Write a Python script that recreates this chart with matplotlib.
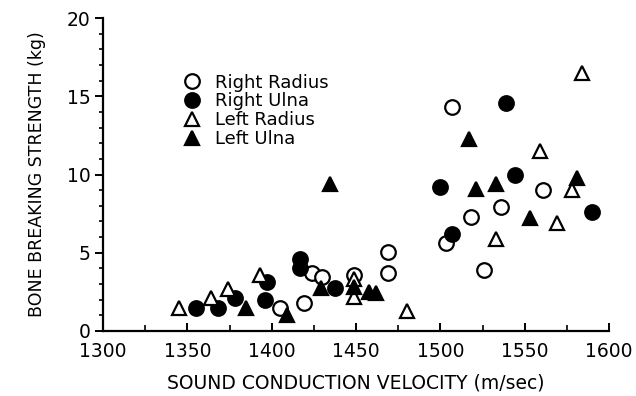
import matplotlib
matplotlib.use("Agg")
import matplotlib.pyplot as plt
from matplotlib.ticker import MultipleLocator

# Data (sound conduction velocity m/sec, breaking strength kg)
rr_x = [1405, 1419, 1424, 1430, 1449, 1469, 1469, 1503.5, 1507, 1518, 1526, 1536, 1561]
rr_y = [1.5, 1.8, 3.7, 3.45, 3.6, 5.05, 3.7, 5.6, 14.3, 7.3, 3.9, 7.9, 9.0]

ru_x = [1355, 1368, 1378, 1396, 1397, 1417, 1417, 1437.5, 1500, 1507, 1539, 1544, 1590]
ru_y = [1.5, 1.5, 2.1, 2.0, 3.1, 4.6, 4.0, 2.75, 9.2, 6.2, 14.6, 10.0, 7.6]

lr_x = [1345, 1364, 1374, 1393, 1449, 1449, 1480, 1533, 1559, 1569, 1578, 1584]
lr_y = [1.5, 2.1, 2.7, 3.6, 3.3, 2.2, 1.3, 5.9, 11.5, 6.9, 9.0, 16.5]

lu_x = [1384.5, 1409, 1429, 1434.5, 1449, 1458, 1462, 1517, 1521, 1533, 1553, 1581]
lu_y = [1.5, 1.0, 2.75, 9.4, 2.8, 2.5, 2.4, 12.3, 9.1, 9.4, 7.2, 9.8]

labels = ["Right Radius", "Right Ulna", "Left Radius", "Left Ulna"]
xlabel = "SOUND CONDUCTION VELOCITY (m/sec)"
ylabel = "BONE BREAKING STRENGTH (kg)"

plt.rcParams['font.family'] = ['DejaVu Sans']

fig = plt.figure(figsize=(6.36, 3.96), dpi=100)
ax = fig.add_axes([103/636, 1 - 331/396, (609 - 103)/636, (331 - 18)/396])

ms = 10.5
ew = 1.6
ax.plot(rr_x, rr_y, 'o', ms=ms, mfc='white', mec='black', mew=ew, ls='none', label=labels[0])
ax.plot(ru_x, ru_y, 'o', ms=ms, mfc='black', mec='black', mew=ew, ls='none', label=labels[1])
ax.plot(lr_x, lr_y, '^', ms=ms, mfc='white', mec='black', mew=ew, ls='none', label=labels[2])
ax.plot(lu_x, lu_y, '^', ms=ms, mfc='black', mec='black', mew=ew, ls='none', label=labels[3])

ax.set_xlim(1300, 1600)
ax.set_ylim(0, 20)
ax.xaxis.set_major_locator(MultipleLocator(50))
ax.xaxis.set_minor_locator(MultipleLocator(25))
ax.yaxis.set_major_locator(MultipleLocator(5))
ax.yaxis.set_minor_locator(MultipleLocator(1))

for s in ['top', 'right']:
    ax.spines[s].set_visible(False)
for s in ['left', 'bottom']:
    ax.spines[s].set_linewidth(1.6)

ax.tick_params(axis='x', which='major', direction='in', length=6, width=1.4, labelsize=13.5, pad=8)
ax.tick_params(axis='x', which='minor', direction='in', length=4, width=1.2)
ax.tick_params(axis='y', which='major', direction='out', length=6, width=1.4, labelsize=13.5, pad=3)
ax.tick_params(axis='y', which='minor', direction='out', length=3, width=1.2)

ax.set_xlabel(xlabel, fontsize=13.5, labelpad=9)
ax.set_ylabel(ylabel, fontsize=12.5, labelpad=15)

ax.legend(loc='upper left', bbox_to_anchor=(0.133, 0.863), frameon=False, fontsize=13,
          labelspacing=0.05, handletextpad=0.8, handlelength=1.0, borderpad=0.2)

fig.savefig("out.png", dpi=100)
